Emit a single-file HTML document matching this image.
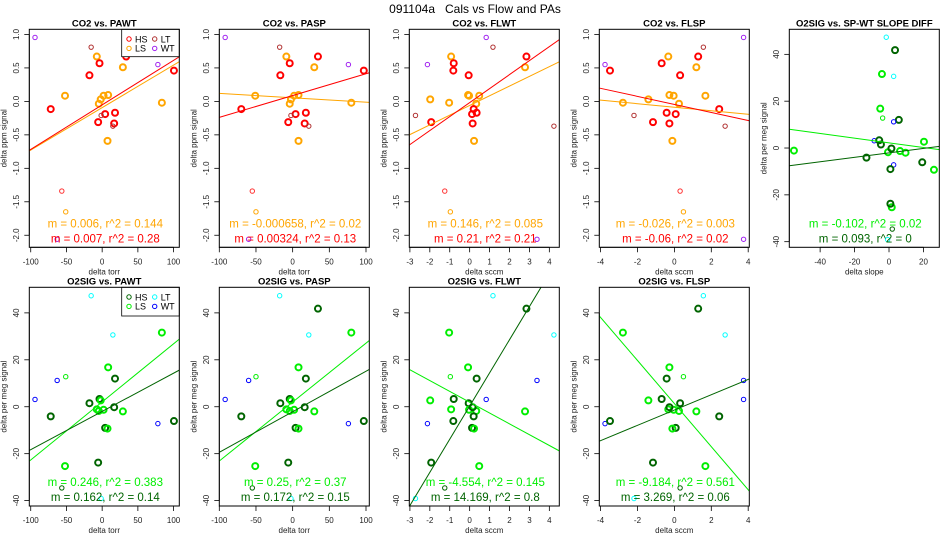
<!DOCTYPE html>
<html><head><meta charset="utf-8"><style>
body{margin:0;background:#fff}
svg{display:block;font-family:"Liberation Sans",sans-serif}
</style></head><body>
<svg id="chart" width="950" height="550" viewBox="0 0 950 550" xmlns="http://www.w3.org/2000/svg">
<rect width="950" height="550" fill="#fff"/>
<text x="475" y="13" font-size="12" text-anchor="middle" style="white-space:pre" xml:space="preserve">091104a   Cals vs Flow and PAs</text>
</svg>
<script>
// sample data (26 samples)
const groups = ['WT','LT','LS','HS','HS','HS','LS','WT','HS','LS','LS','LS','LS','LS','LS','HS','HS','HS','HS','HS','LT','LT','LS','HSo','LSo','WT'];
const co2 = [0.955,0.81,0.67,0.57,0.39,0.67,0.51,0.55,0.46,0.085,0.095,0.085,0.03,-0.035,-0.02,-0.115,-0.19,-0.17,-0.31,-0.33,-0.21,-0.37,-0.59,-1.34,-1.65,-2.06];
const o2sig = [3.1,47.3,-1.1,3.3,1.5,41.8,-2.0,-7.2,-6.1,-25.3,16.8,-1.3,2.7,-1.8,31.6,-4.1,-9.0,12.0,-23.8,-0.2,-39.1,30.6,-9.3,-34.6,12.8,11.2];
const xPAWT = [-94,-15.4,-7.5,-3.7,-17.8,33.6,29,78,100.5,-52,8.4,2,-2,-4.7,83.6,-72,4.2,18,-5.6,16.8,-1.4,15,7.5,-56.5,-51,-63];
const xPASP = [-92,-17.7,-8.6,-4,-16.8,34.5,29.5,76,97,-51,8,2,-2.3,-4,80,-70,4,18,-6,16.4,-2.3,22,8,-55,-50,-60];
const xFLWT = [0.83,1.17,-0.93,-0.8,-0.05,2.85,2.78,-2.12,-0.82,0.48,-0.08,-0.03,-1.98,0.33,-1.03,0.2,0.12,0.35,-1.93,0.15,-2.72,4.23,0.22,-1.25,-0.97,3.38];
const xFLSP = [3.75,1.57,-0.33,-0.69,0.31,1.29,1.19,-3.76,-3.49,1.68,-0.27,-0.04,-1.41,0.25,-2.79,2.43,0.07,-0.42,-1.16,-0.27,-2.19,2.75,-0.11,0.31,0.49,3.75];
const xSlopeDiff = [-8.6,-1.6,-55.2,-5.7,-4.7,3.5,9.6,2.7,19.3,1.6,-5.1,6.4,20.3,-0.6,-4.1,-13.1,0.8,5.7,0.8,1.4,-0.8,2.7,26.1,1.9,-3.7,2.7];
// fit lines [LS line, HS line] per panel
const lsSlopes = [0.00635,-0.000655,0.145,-0.0263,-0.0999,0.2476,0.251,-4.61,-9.18];
const lsIntercepts = [-0.093,0.054,-0.061,-0.087,2.22,2.06,1.99,1.93,1.35];
const hsSlopes = [0.00665,0.00326,0.209,-0.06,0.0948,0.163,0.1726,14.13,3.26];
const hsIntercepts = [-0.052,0.087,-0.018,-0.045,-2.06,-2.0,-2.14,0.29,-1.4];
const lsLabels = ['m = 0.006, r^2 = 0.144','m = -0.000658, r^2 = 0.02','m = 0.146, r^2 = 0.085','m = -0.026, r^2 = 0.003','m = -0.102, r^2 = 0.02','m = 0.246, r^2 = 0.383','m = 0.25, r^2 = 0.37','m = -4.554, r^2 = 0.145','m = -9.184, r^2 = 0.561'];
const hsLabels = ['m = 0.007, r^2 = 0.28','m = 0.00324, r^2 = 0.13','m = 0.21, r^2 = 0.21','m = -0.06, r^2 = 0.02','m = 0.093, r^2 = 0','m = 0.162, r^2 = 0.14','m = 0.172, r^2 = 0.15','m = 14.169, r^2 = 0.8','m = 3.269, r^2 = 0.06'];
const co2Ticks = [-2,-1.5,-1,-0.5,0,0.5,1];
const o2Ticks = [-40,-20,0,20,40];
const torrTicks = [-100,-50,0,50,100];
const flwtTicks = [-3,-2,-1,0,1,2,3,4];
const flspTicks = [-4,-2,0,2,4];
const slopeTicks = [-40,-20,0,20];

const NS='http://www.w3.org/2000/svg';
const svg=document.getElementById('chart');
const C1={HS:'#ff0000',LS:'#ffa500',LT:'#b03030',WT:'#a020f0',HSo:'#ff3030',LSo:'#ffa500'};
const C2={HS:'#006400',LS:'#00ee00',LT:'#00ffff',WT:'#0000ff',HSo:'#006400',LSo:'#00ee00'};
function mk(tag,attrs,parent){const e=document.createElementNS(NS,tag);for(const k in attrs)e.setAttribute(k,attrs[k]);(parent||svg).appendChild(e);return e;}

const R1={y0:29.3,h:218,ylim:[-2.18,1.077],yt:co2Ticks,fmt:v=>v.toFixed(1),ylab:'delta ppm signal'};
const R2={y0:287.3,h:218.7,ylim:[-42.3,50.9],yt:o2Ticks,fmt:v=>String(v),ylab:'delta per meg signal'};
const panels=[
 {x0:29.3,r:R1,xlim:[-102,108],xt:torrTicks,xs:xPAWT,ys:co2,col:C1,t:'CO2 vs. PAWT',xl:'delta torr',leg:true},
 {x0:219.3,r:R1,xlim:[-100,104.5],xt:torrTicks,xs:xPASP,ys:co2,col:C1,t:'CO2 vs. PASP',xl:'delta torr'},
 {x0:409.3,r:R1,xlim:[-3.03,4.5],xt:flwtTicks,xs:xFLWT,ys:co2,col:C1,t:'CO2 vs. FLWT',xl:'delta sccm'},
 {x0:599.3,r:R1,xlim:[-4.07,4.06],xt:flspTicks,xs:xFLSP,ys:co2,col:C1,t:'CO2 vs. FLSP',xl:'delta sccm'},
 {x0:789.3,r:{y0:29.3,h:218,ylim:[-42.4,50.7],yt:o2Ticks,fmt:v=>String(v),ylab:'delta per meg signal'},xlim:[-57.9,29.2],xt:slopeTicks,xs:xSlopeDiff,ys:o2sig,col:C2,t:'O2SIG vs. SP-WT SLOPE DIFF',xl:'delta slope',o2:true},
 {x0:29.3,r:R2,xlim:[-102,108],xt:torrTicks,xs:xPAWT,ys:o2sig,col:C2,t:'O2SIG vs. PAWT',xl:'delta torr',leg:true},
 {x0:219.3,r:R2,xlim:[-100,104.5],xt:torrTicks,xs:xPASP,ys:o2sig,col:C2,t:'O2SIG vs. PASP',xl:'delta torr'},
 {x0:409.3,r:R2,xlim:[-3.03,4.5],xt:flwtTicks,xs:xFLWT,ys:o2sig,col:C2,t:'O2SIG vs. FLWT',xl:'delta sccm'},
 {x0:599.3,r:R2,xlim:[-4.07,4.06],xt:flspTicks,xs:xFLSP,ys:o2sig,col:C2,t:'O2SIG vs. FLSP',xl:'delta sccm'}
];
panels.forEach((p,i)=>{
 const W=150,r=p.r,x0=p.x0,y0=r.y0,H=r.h;
 const g=mk('g',{});
 
 
 const sx=v=>x0+(v-p.xlim[0])/(p.xlim[1]-p.xlim[0])*W;
 const sy=v=>y0+H-(v-r.ylim[0])/(r.ylim[1]-r.ylim[0])*H;
 const cp=mk('clipPath',{id:'cp'+i},g);mk('rect',{x:x0,y:y0,width:W,height:H},cp);
 const t=mk('text',{x:x0+W/2,y:y0-3,'font-size':9.5,'font-weight':'bold','text-anchor':'middle'},g);t.textContent=p.t;
 
 
 const xt=p.xt;
 mk('line',{x1:sx(xt[0]),x2:sx(xt[xt.length-1]),y1:y0+H,y2:y0+H,stroke:'#000','stroke-width':0.8},g);
 xt.forEach(v=>{mk('line',{x1:sx(v),x2:sx(v),y1:y0+H,y2:y0+H+5,stroke:'#000','stroke-width':0.8},g);
  const l=mk('text',{x:sx(v),y:y0+H+17,'font-size':8,'text-anchor':'middle',fill:'#222'},g);l.textContent=String(v);
  
  });
 const xl=mk('text',{x:x0+W/2,y:y0+H+27,'font-size':8,'text-anchor':'middle',fill:'#222'},g);xl.textContent=p.xl;
 
 
 const yt=r.yt;
 mk('line',{x1:x0,x2:x0,y1:sy(yt[0]),y2:sy(yt[yt.length-1]),stroke:'#000','stroke-width':0.8},g);
 yt.forEach(v=>{mk('line',{x1:x0-5,x2:x0,y1:sy(v),y2:sy(v),stroke:'#000','stroke-width':0.8},g);
  const l=mk('text',{x:x0-10.5,y:sy(v),'font-size':8,'text-anchor':'middle',fill:'#222',transform:`rotate(-90 ${x0-10.5} ${sy(v)})`},g);l.textContent=r.fmt(v);
  
  });
 const yl=mk('text',{x:x0-23,y:y0+H/2,'font-size':8,'text-anchor':'middle',fill:'#222',transform:`rotate(-90 ${x0-23} ${y0+H/2})`},g);yl.textContent=r.ylab;
 
 
 const pg=mk('g',{'clip-path':`url(#cp${i})`},g);
 p.xs.forEach((xv,k)=>{const grp=groups[k];const big=grp==='HS'||grp==='LS';
  const c=mk('circle',{cx:sx(xv),cy:sy(p.ys[k]),r:big?3:2.2,fill:'none',stroke:p.col[grp],'stroke-width':big?2:1},pg);
  
  });
 const X0=p.xlim[0],X1=p.xlim[1];
 const l1=mk('line',{x1:sx(X0),x2:sx(X1),y1:sy(lsIntercepts[i]+lsSlopes[i]*X0),y2:sy(lsIntercepts[i]+lsSlopes[i]*X1),stroke:p.col.LS,'stroke-width':1},pg);
 
 
 const l2=mk('line',{x1:sx(X0),x2:sx(X1),y1:sy(hsIntercepts[i]+hsSlopes[i]*X0),y2:sy(hsIntercepts[i]+hsSlopes[i]*X1),stroke:p.col.HS,'stroke-width':1},pg);
 
 
 const a1=mk('text',{x:x0+W/2+1,y:y0+H-20,'font-size':11.5,'text-anchor':'middle',fill:p.col.LS},g);a1.textContent=lsLabels[i];
 
 
 const a2=mk('text',{x:x0+W/2+1,y:y0+H-5,'font-size':11.5,'text-anchor':'middle',fill:p.col.HS},g);a2.textContent=hsLabels[i];
 
 
 if(p.leg){const lx=x0+92.4,ly=y0;const lg=mk('g',{},g);
  
  
  mk('rect',{x:lx,y:ly,width:57.6,height:r===R1?27.4:28.7,fill:'#fff',stroke:'#000','stroke-width':0.8},lg);
  [['HS',0,0],['LS',0,1],['LT',1,0],['WT',1,1]].forEach(([n,c,rw])=>{
   const ex=lx+7.3+c*25.7,ey=ly+9.7+rw*9.4;
   mk('circle',{cx:ex,cy:ey,r:2.2,fill:'none',stroke:p.col[n],'stroke-width':1},lg);
   const tt=mk('text',{x:ex+6,y:ey+3.3,'font-size':9},lg);tt.textContent=n;
   
   });}
 mk('rect',{x:x0,y:y0,width:W,height:H,fill:'none',stroke:'#000','stroke-width':1},g);
});
</script>
</body></html>
